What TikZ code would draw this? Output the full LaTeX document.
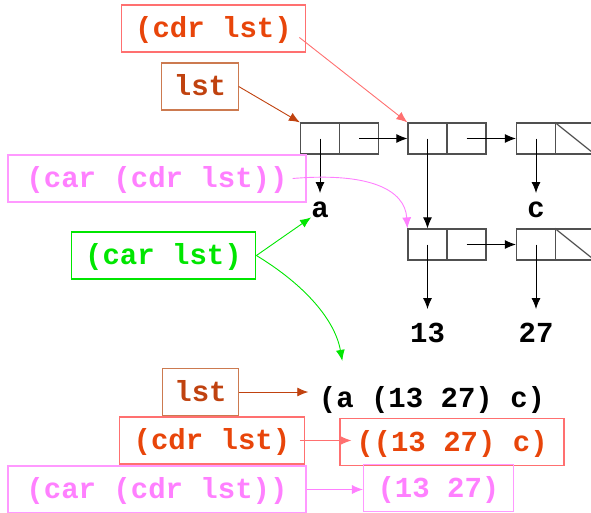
\documentclass[tikz,border=0pt]{standalone}
\usepackage{fontspec}
\setmonofont{Liberation Mono}
\usetikzlibrary{arrows.meta}
\definecolor{cdrtxt}{HTML}{E8450A}
\definecolor{cdrln}{HTML}{FF7070}
\definecolor{lsttxt}{HTML}{C0420F}
\definecolor{lstln}{HTML}{CC7A50}
\definecolor{cartxt}{HTML}{FF80FF}
\definecolor{carln}{HTML}{FF99FF}
\definecolor{grn}{HTML}{00E600}
\definecolor{celln}{HTML}{505050}
\tikzstyle{cel}=[rectangle,draw=celln,line width=1.2pt,minimum width=39pt,minimum height=31pt,inner sep=0pt]
\tikzstyle{lbl}=[rectangle,line width=1.2pt,inner xsep=14pt,inner ysep=0pt,minimum height=47pt,text height=24pt,text depth=6pt,font=\fontsize{29}{34}\selectfont\ttfamily\bfseries]
\tikzstyle{atm}=[inner sep=0pt,anchor=north,text height=24pt,text depth=0pt,font=\fontsize{29}{34}\selectfont\ttfamily\bfseries]
\tikzstyle{ar}=[-{Latex[length=11pt,width=9pt]},line width=0.9pt]

\begin{document}
\begin{tikzpicture}[x=1pt,y=-1pt]
\useasboundingbox (0,0) rectangle (591,512);
% cons cells
\node[cel] (c1a) at (320,138.5) {}; \node[cel] (c1d) at (359,138.5) {};
\node[cel] (c2a) at (427.5,138.5) {}; \node[cel] (c2d) at (466.5,138.5) {};
\node[cel] (c3a) at (536,138.5) {}; \node[cel] (c3d) at (575,138.5) {};
\node[cel] (c4a) at (427.5,244.5) {}; \node[cel] (c4d) at (466.5,244.5) {};
\node[cel] (c5a) at (536,244.5) {}; \node[cel] (c5d) at (575,244.5) {};
\draw[celln,line width=1.2pt] (c3d.north west) -- (c3d.south east);
\draw[celln,line width=1.2pt] (c5d.north west) -- (c5d.south east);
% atoms
\node[atm] (a) at (320,193) {a};
\node[atm] (c) at (536,193) {c};
\node[atm,text height=33pt] (n13) at (427.5,309) {13};
\node[atm,text height=33pt] (n27) at (536,309) {27};
\draw[ar] (c1a.center) -- (a.north);
\draw[ar] (c1d.center) -- (c2a.west);
\draw[ar] (c2a.center) -- (c4a.north);
\draw[ar] (c2d.center) -- (c3a.west);
\draw[ar] (c3a.center) -- (c.north);
\draw[ar] (c4a.center) -- (n13.north);
\draw[ar] (c4d.center) -- (c5a.west);
\draw[ar] (c5a.center) -- (n27.north);
% labels at the top
\node[lbl,draw=cdrln,text=cdrtxt] (cdrA) at (213.5,28.5) {(cdr lst)};
\node[lbl,draw=lstln,text=lsttxt,inner xsep=12pt] (lstA) at (200,86.5) {lst};
\node[lbl,draw=carln,text=cartxt,minimum width=298pt] (ccA) at (157,178.5) {(car (cdr lst))};
\node[lbl,draw=grn,text=grn] (carl) at (163.5,255.5) {(car lst)};
\draw[ar,cdrln] ([shift={(-7,9)}]cdrA.east) -- (c2a.north west);
\draw[ar,lsttxt] (lstA.east) -- (c1a.north west);
\draw[ar,cartxt] ([xshift=-14pt]ccA.east) .. controls (370,172) and (405,190) .. (c4a.north west);
\draw[ar,grn] (carl.east) -- (a.south west);
% printed values
\node[lbl,inner xsep=10pt,text=black] (lv) at (432,398) {(a (13 27) c)};
\node[lbl,draw=lstln,text=lsttxt,inner xsep=12pt] (lstB) at (200.5,392) {lst};
\node[lbl,draw=cdrln,text=cdrtxt] (cdrB) at (212,440.5) {(cdr lst)};
\node[lbl,draw=cdrln,text=cdrtxt,minimum width=224pt] (v1) at (452,442) {((13 27) c)};
\node[lbl,draw=carln,text=cartxt,minimum width=298pt] (ccB) at (157,489.5) {(car (cdr lst))};
\node[lbl,draw=carln,text=cartxt,minimum width=149pt] (v2) at (438.5,488) {(13 27)};
\draw[ar,grn] (carl.east) .. controls (305,285) and (335,320) .. ([shift={(34,-13)}]lv.north west);
\draw[ar,lsttxt] (lstB.east) -- (lstB.east -| lv.west);
\draw[ar,cdrln] ([xshift=-5pt]cdrB.east) -- ([xshift=12pt]cdrB.east -| v1.west);
\draw[ar,cartxt] (ccB.east) -- (ccB.east -| v2.west);
\end{tikzpicture}
\end{document}
